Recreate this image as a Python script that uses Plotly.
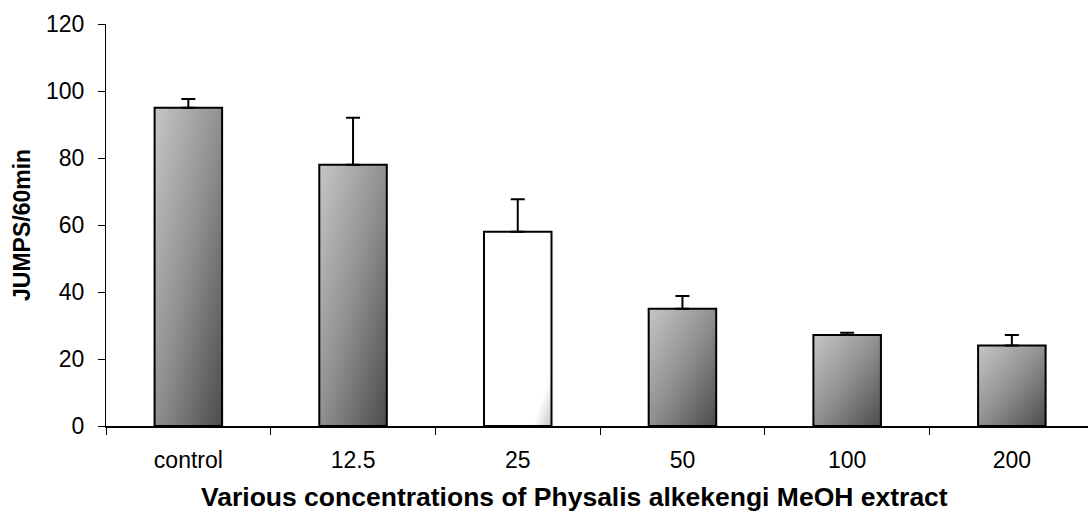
import urllib.parse
import plotly.graph_objects as go

categories = ["control", "12.5", "25", "50", "100", "200"]
means = [95, 78, 58, 35, 27.2, 24]
err_top = [97.6, 92, 67.7, 38.8, 27.8, 27.2]
y_ticks = [0, 20, 40, 60, 80, 100, 120]

FONT = "Liberation Sans, Arial, sans-serif"
bar_w = 0.41
x_idx = list(range(len(categories)))
errs = [t - m for t, m in zip(err_top, means)]


def grad_svg(c0, c1, c2, s1):
    svg = ("<svg xmlns='http://www.w3.org/2000/svg' width='100' height='100' preserveAspectRatio='none'>"
           "<defs><linearGradient id='g' x1='0' y1='0' x2='1' y2='1'>"
           f"<stop offset='0' stop-color='{c0}'/><stop offset='{s1}' stop-color='{c1}'/>"
           f"<stop offset='1' stop-color='{c2}'/></linearGradient></defs>"
           "<rect width='100' height='100' fill='url(#g)'/></svg>")
    return "data:image/svg+xml;charset=utf-8," + urllib.parse.quote(svg)


gray = grad_svg("#c6c6c6", "#909090", "#4c4c4c", 0.5)
white = grad_svg("#ffffff", "#ffffff", "#c4c4c4", 0.86)

fig = go.Figure()
fig.add_trace(go.Bar(
    x=x_idx, y=means, width=bar_w,
    marker=dict(color="rgba(0,0,0,0)", line=dict(color="black", width=2)),
    error_y=dict(type="data", array=errs, arrayminus=[0] * len(errs), symmetric=False,
                 color="black", thickness=2, width=7),
    showlegend=False, hoverinfo="skip",
))

images = []
for i, m in zip(x_idx, means):
    images.append(dict(
        source=white if categories[i] == "25" else gray,
        xref="x", yref="y", x=i - bar_w / 2, y=m, sizex=bar_w, sizey=m,
        xanchor="left", yanchor="top", sizing="stretch", layer="below",
    ))

L, T, B = 106, 24, 89
W, H = 1088, 515
pw = W - L
ph = H - T - B

fig.update_layout(
    width=W, height=H,
    margin=dict(l=L, r=0, t=T, b=B, pad=0),
    paper_bgcolor="white", plot_bgcolor="rgba(0,0,0,0)",
    images=images,
    font=dict(family=FONT, size=23, color="black"),
    xaxis=dict(
        range=[-0.5, -0.5 + pw / 164.7], tickmode="array", tickvals=x_idx, ticktext=categories,
        ticks="", showgrid=False, zeroline=False, showline=True, linecolor="black", linewidth=1.5,
        minor=dict(tickmode="array", tickvals=[i - 0.5 for i in range(len(categories) + 1)],
                   ticks="outside", ticklen=7, tickcolor="black", tickwidth=1, showgrid=False),
        tickfont=dict(size=23), ticklabelstandoff=13, fixedrange=True,
    ),
    yaxis=dict(
        range=[0, 120], tickmode="array", tickvals=y_ticks, ticks="outside", ticklen=7,
        tickcolor="black", showgrid=False, zeroline=False, showline=True, linecolor="black",
        linewidth=1, tickfont=dict(size=23), ticklabelstandoff=9, fixedrange=True,
    ),
    annotations=[
        dict(text="<b>JUMPS/60min</b>", xref="paper", yref="paper", x=(22 - L) / pw, y=0.5,
             textangle=-90, showarrow=False, xanchor="center", yanchor="middle",
             font=dict(size=23, family=FONT)),
        dict(text="<b>Various concentrations of Physalis alkekengi MeOH extract</b>",
             xref="paper", yref="paper", x=(574 - L) / pw, y=(426 - 497) / ph,
             showarrow=False, xanchor="center", yanchor="middle",
             font=dict(size=26.5, family=FONT)),
    ],
)

fig.write_html("out.html", config={"displayModeBar": False},
               post_script="document.body.style.margin='0px';")
